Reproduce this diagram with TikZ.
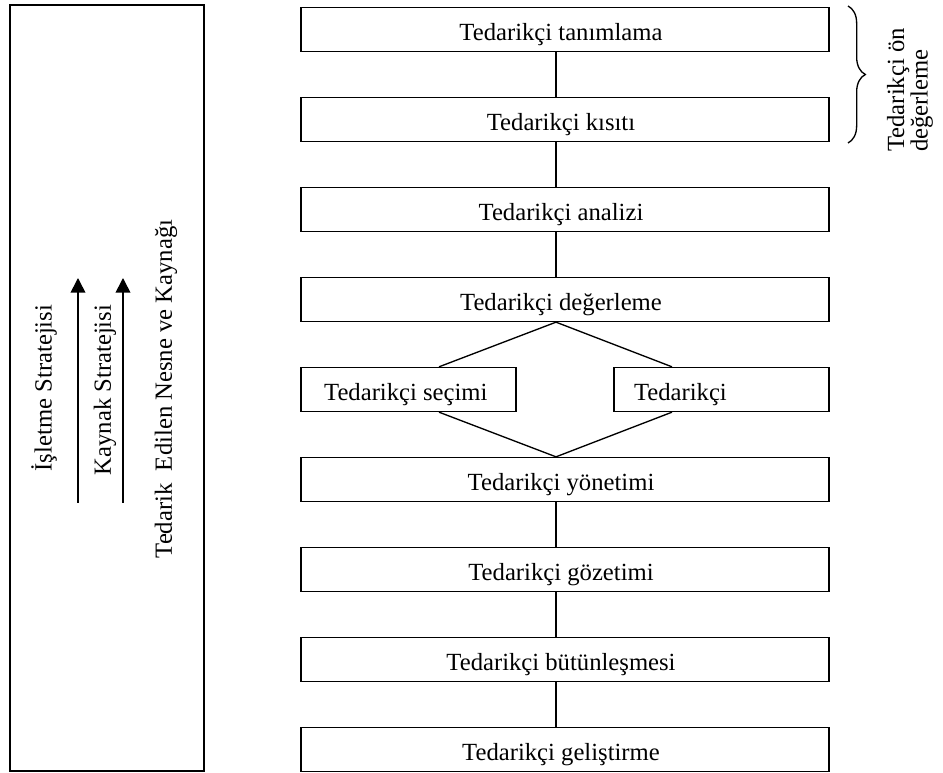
\documentclass[tikz,border=0pt]{standalone}
\usepackage{fontspec}
\setmainfont{Liberation Serif}
\usetikzlibrary{arrows.meta,decorations.pathreplacing}
\begin{document}
\begin{tikzpicture}[x=0.75pt,y=-0.75pt,
  every node/.style={font=\fontsize{18.5}{21}\selectfont},
  stepbox/.style={draw, line width=1pt, minimum width=396pt, minimum height=33pt,
    inner sep=0pt, text height=16.5pt, text depth=0pt},
  smallbox/.style={draw, line width=1pt, minimum height=33pt, inner ysep=0pt,
    text height=16.5pt, text depth=0pt},
  conn/.style={line width=1pt},
  upar/.style={line width=1.2pt, -{Triangle[width=11pt,length=11pt]}},
  vlabel/.style={rotate=90, inner sep=0pt}
]
\useasboundingbox (0,0) rectangle (943,773);

% left panel
\node[draw, line width=1pt, minimum width=145.5pt, minimum height=574.5pt, inner sep=0pt] (frame) at (107,388) {};
\node[vlabel] (t1) at (44,388) {İşletme Stratejisi};
\node[vlabel] (t2) at (105,390) {Kaynak Stratejisi};
\node[vlabel] (t3) at (166,389) {Tedarik\ \ Edilen Nesne ve Kaynağı};
\coordinate (a1b) at (78,503);
\coordinate (a1t) at (78,278);
\coordinate (a2b) at (123,503);
\coordinate (a2t) at (123,278);
\draw[upar] (a1b) -- (a1t);
\draw[upar] (a2b) -- (a2t);

% main chain
\node[stepbox] (b1) at (565,29.5) {Tedarikçi tanımlama\hspace*{6pt}};
\node[stepbox] (b2) at (565,119.5) {Tedarikçi kısıtı\hspace*{6pt}};
\node[stepbox] (b3) at (565,209.5) {Tedarikçi analizi\hspace*{6pt}};
\node[stepbox] (b4) at (565,299.5) {Tedarikçi değerleme\hspace*{6pt}};
\node[smallbox, minimum width=161.25pt, inner xsep=0pt] (s1) at (408.5,389.5) {Tedarikçi seçimi\hspace*{4pt}};
\node[smallbox, text width=131.25pt, inner xsep=15pt, align=left] (s2) at (721.5,389.5) {Tedarikçi};
\node[stepbox] (b5) at (565,479.5) {Tedarikçi yönetimi\hspace*{6pt}};
\node[stepbox] (b6) at (565,569.5) {Tedarikçi gözetimi\hspace*{6pt}};
\node[stepbox] (b7) at (565,659.5) {Tedarikçi bütünleşmesi\hspace*{6pt}};
\node[stepbox] (b8) at (565,749.5) {Tedarikçi geliştirme\hspace*{6pt}};

\coordinate (ax) at (556,0);
\coordinate (dl) at (439,0);
\coordinate (dr) at (672,0);
\draw[conn] (b1.south -| ax) -- (b2.north -| ax);
\draw[conn] (b2.south -| ax) -- (b3.north -| ax);
\draw[conn] (b3.south -| ax) -- (b4.north -| ax);
\draw[conn] (b4.south -| ax) -- (s1.north -| dl);
\draw[conn] (b4.south -| ax) -- (s2.north -| dr);
\draw[conn] (s1.south -| dl) -- (b5.north -| ax);
\draw[conn] (s2.south -| dr) -- (b5.north -| ax);
\draw[conn] (b5.south -| ax) -- (b6.north -| ax);
\draw[conn] (b6.south -| ax) -- (b7.north -| ax);
\draw[conn] (b7.south -| ax) -- (b8.north -| ax);

% brace
\coordinate (brt) at (848,6);
\coordinate (brb) at (848,143);
\draw[line width=1pt, decorate, decoration={brace, amplitude=13pt}] (brt) -- (brb);
\node[vlabel, align=left, font=\fontsize{18.5}{17.5}\selectfont] (bl) at (910,90) {Tedarikçi ön\\değerleme};
\end{tikzpicture}
\end{document}
